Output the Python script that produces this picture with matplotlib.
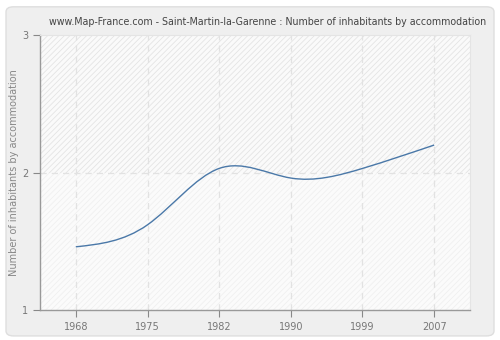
import numpy as np
import matplotlib
matplotlib.use("Agg")
import matplotlib.pyplot as plt
from matplotlib.path import Path
from matplotlib.patches import PathPatch, FancyBboxPatch

years = ["1968", "1975", "1982", "1990", "1999", "2007"]
inhabitants = [1.46, 1.62, 2.03, 1.96, 2.03, 2.20]

title = "www.Map-France.com - Saint-Martin-la-Garenne : Number of inhabitants by accommodation"
ylabel = "Number of inhabitants by accommodation"


def spline_path(xs, ys):
    # natural cubic spline, written as bezier segments (h = 1)
    n = len(ys)
    A = np.zeros((n, n))
    b = np.zeros(n)
    A[0, 0], A[0, 1] = 2, 1
    b[0] = 3 * (ys[1] - ys[0])
    A[-1, -2], A[-1, -1] = 1, 2
    b[-1] = 3 * (ys[-1] - ys[-2])
    for i in range(1, n - 1):
        A[i, i - 1], A[i, i], A[i, i + 1] = 1, 4, 1
        b[i] = 3 * (ys[i + 1] - ys[i - 1])
    m = np.linalg.solve(A, b)
    verts = [(xs[0], ys[0])]
    codes = [Path.MOVETO]
    for i in range(n - 1):
        verts += [(xs[i] + 1 / 3, ys[i] + m[i] / 3),
                  (xs[i + 1] - 1 / 3, ys[i + 1] - m[i + 1] / 3),
                  (xs[i + 1], ys[i + 1])]
        codes += [Path.CURVE4] * 3
    return Path(verts, codes)


plt.rcParams["hatch.linewidth"] = 0.6

fig = plt.figure(figsize=(5, 3.4), dpi=100)
fig.patch.set_facecolor("white")
fig.patches.append(FancyBboxPatch((0.012, 0.012), 0.976, 0.968, boxstyle="round,pad=0,rounding_size=0.015",
                                  transform=fig.transFigure, facecolor="#efefef", edgecolor="#dedede",
                                  linewidth=1, zorder=-10))

ax = fig.add_axes([0.08, 0.088, 0.86, 0.809])
ax.set_facecolor("#fbfbfb")
x = np.arange(len(years))
ax.set_xlim(-0.5, len(years) - 0.5)
ax.set_ylim(1, 3)

ax.axhspan(2, 3, facecolor="#fafafa", edgecolor="#e4e4e4", hatch="//////", linewidth=0, zorder=0)
ax.axhspan(1, 2, facecolor="#fbfbfb", edgecolor="#f0f0f0", hatch="//////", linewidth=0, zorder=0)

for xi in x:
    ax.axvline(xi, color="#e2e2e2", linestyle=(0, (5, 4)), linewidth=0.9, zorder=1)
ax.axhline(2, color="#e2e2e2", linestyle=(0, (5, 4)), linewidth=0.9, zorder=1)

ax.add_patch(PathPatch(spline_path(x, inhabitants), facecolor="none", edgecolor="#4a78a8",
                       linewidth=1.0, zorder=3))

ax.set_xticks(x)
ax.set_xticklabels(years)
ax.set_yticks([1, 2, 3])
ax.tick_params(colors="#888888", labelcolor="#777777", labelsize=7, length=5, width=0.8)
for side in ["top", "right"]:
    ax.spines[side].set_color("#e4e4e4")
    ax.spines[side].set_linewidth(0.8)
for side in ["left", "bottom"]:
    ax.spines[side].set_color("#999999")
    ax.spines[side].set_linewidth(1.0)

ax.set_ylabel(ylabel, color="#888888", fontsize=7)
ax.yaxis.set_label_coords(-0.048, 0.5)
fig.text(0.535, 0.935, title, ha="center", va="center", fontsize=6.85, color="#444444")

fig.savefig("out.png", dpi=100, facecolor=fig.get_facecolor())
